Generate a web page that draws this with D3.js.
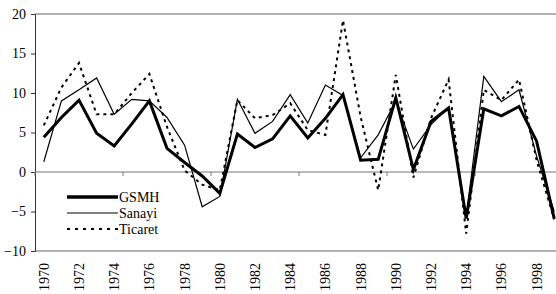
<!DOCTYPE html>
<html><head><meta charset="utf-8">
<script src="https://cdn.jsdelivr.net/npm/d3@7"></script>
<style>body{margin:0;background:#fff}svg{display:block}text{font-family:"Liberation Serif","Times New Roman",serif}</style>
</head><body>
<script>
const years = d3.range(1970, 2000);
const tickLabels = years.filter(y => y % 2 === 0);
const yTicks = [-10, -5, 0, 5, 10, 15, 20];
const gsmh =    [4.4, 6.9, 9.1, 4.9, 3.3, 6.1, 9.0, 3.0, 1.2, -0.5, -2.7, 4.8, 3.1, 4.2, 7.1, 4.3, 6.8, 9.8, 1.5, 1.6, 9.4, 0.3, 6.4, 8.1, -5.9, 8.0, 7.1, 8.3, 3.9, -5.9];
const sanayi =  [1.3, 9.0, 10.4, 11.9, 7.3, 9.2, 9.0, 6.9, 3.4, -4.4, -3.1, 9.2, 4.9, 6.4, 9.8, 6.2, 11.0, 9.7, 1.8, 4.7, 9.0, 2.9, 6.0, 8.2, -5.7, 12.1, 8.9, 10.4, 2.0, -5.0];
const ticaret = [5.9, 10.7, 13.8, 7.3, 7.3, 10.0, 12.4, 5.7, 0.2, -1.6, -2.3, 9.1, 6.8, 7.2, 8.7, 5.3, 4.7, 19.2, 7.0, -2.3, 12.3, -0.7, 6.8, 11.7, -7.8, 10.4, 9.1, 11.7, 1.5, -6.0];
const seriesNames = ["GSMH", "Sanayi", "Ticaret"];

const W = 556, H = 294;
const svg = d3.select("body").append("svg").attr("width", W).attr("height", H);
const x = d3.scaleBand().domain(years).range([35, 563]);
const xc = d => x(d) + x.bandwidth() / 2;
const y = d3.scaleLinear().domain([-10, 20]).range([251, 14]);

// frame lines
svg.append("line").attr("x1", 35).attr("x2", W).attr("y1", y(20)).attr("y2", y(20)).attr("stroke", "#666").attr("stroke-width", 1.2);
svg.append("line").attr("x1", 35).attr("x2", W).attr("y1", y(-10)).attr("y2", y(-10)).attr("stroke", "#666").attr("stroke-width", 1.2);

// y axis
const yAxis = d3.axisLeft(y).tickValues(yTicks).tickSize(4).tickPadding(5).tickFormat(d3.format("d"));
const gy = svg.append("g").attr("transform", "translate(35,0)").call(yAxis);
gy.select(".domain").attr("stroke", "#333");
gy.selectAll(".tick line").attr("stroke", "#333");
gy.selectAll("text").attr("font-size", 14).attr("fill", "#000").style("font-family", "'Liberation Serif',serif");

// zero line with category ticks every 5
const zeroTicks = years.filter((d, i) => i % 5 === 0);
svg.append("line").attr("x1", 35).attr("x2", W).attr("y1", y(0)).attr("y2", y(0)).attr("stroke", "#777").attr("stroke-width", 1);
svg.selectAll(".zt").data(zeroTicks).join("line")
  .attr("x1", d => x(d)).attr("x2", d => x(d)).attr("y1", y(0)).attr("y2", y(0) + 4).attr("stroke", "#777");

// x labels
svg.selectAll(".xl").data(tickLabels).join("text")
  .attr("transform", d => `translate(${xc(d)},263) rotate(-90)`)
  .attr("text-anchor", "end").attr("dy", "0.35em").attr("font-size", 14).text(d => d);

// lines
const line = d3.line().x((d, i) => xc(years[i])).y(d => y(d));
svg.append("path").datum(ticaret).attr("d", line).attr("fill", "none").attr("stroke", "#000").attr("stroke-width", 2).attr("stroke-dasharray", "3,4");
svg.append("path").datum(sanayi).attr("d", line).attr("fill", "none").attr("stroke", "#000").attr("stroke-width", 1.2);
svg.append("path").datum(gsmh).attr("d", line).attr("fill", "none").attr("stroke", "#000").attr("stroke-width", 3);

// legend
const leg = [
  {name: seriesNames[0], w: 3.5, dash: null},
  {name: seriesNames[1], w: 1.2, dash: null},
  {name: seriesNames[2], w: 2, dash: "3,5"}
];
const lg = svg.append("g");
leg.forEach((d, i) => {
  const yy = 197 + i * 16;
  lg.append("line").attr("x1", 67).attr("x2", 118).attr("y1", yy).attr("y2", yy)
    .attr("stroke", "#000").attr("stroke-width", d.w).attr("stroke-dasharray", d.dash);
  lg.append("text").attr("x", 119).attr("y", yy).attr("dy", "0.35em").attr("font-size", 14).text(d.name);
});
</script>
</body></html>
